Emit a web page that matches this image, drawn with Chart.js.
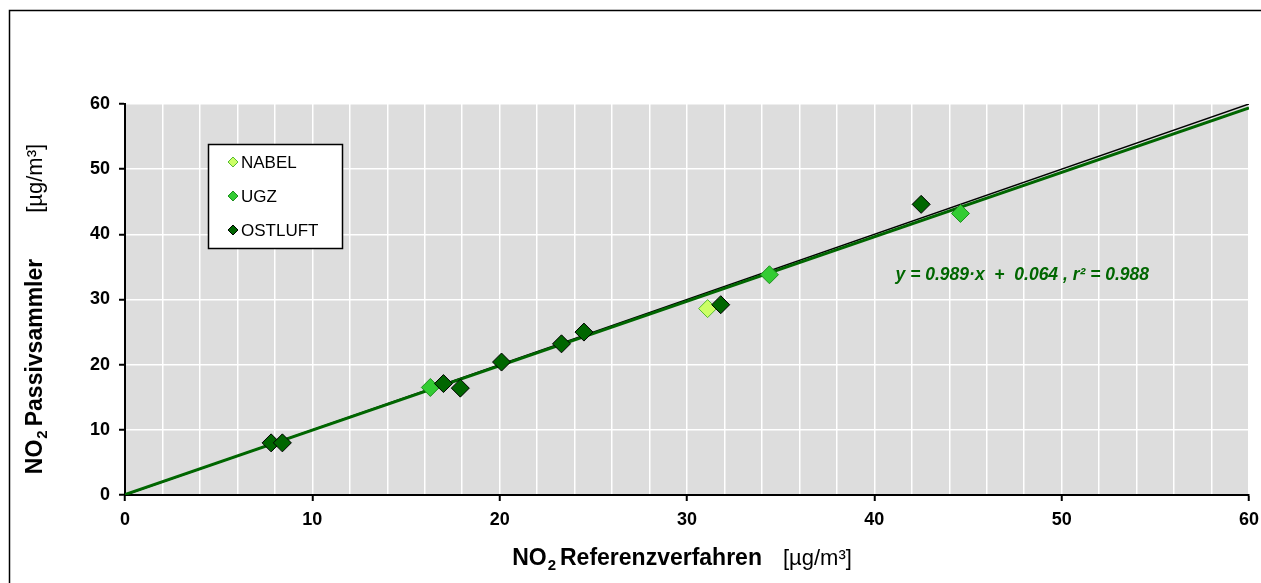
<!DOCTYPE html>
<html>
<head>
<meta charset="utf-8">
<script src="https://cdn.jsdelivr.net/npm/chart.js@4"></script>
<style>
  body { margin: 0; background: #fff; }
  canvas { display: block; }
</style>
</head>
<body>
<canvas id="no2-chart" width="1261" height="583"></canvas>
<script>
// Passivsammler vs. Referenzverfahren, µg/m³
const axisMin = 0;
const axisMax = 60;
const xTickLabels = [0, 10, 20, 30, 40, 50, 60];
const yTickLabels = [0, 10, 20, 30, 40, 50, 60];

const nabelX = [31.1];
const nabelY = [28.6];
const ugzX = [16.3, 34.4, 44.6];
const ugzY = [16.5, 33.8, 43.2];
const ostluftX = [7.8, 8.4, 17.0, 17.9, 20.1, 23.3, 24.5, 31.8, 42.5];
const ostluftY = [8.0, 8.0, 17.1, 16.4, 20.4, 23.2, 25.0, 29.2, 44.6];

const slope = 0.989;
const intercept = 0.064;
const rSquared = 0.988;

const FONT = '"Liberation Sans", Arial, sans-serif';
const GREEN = '#006600';

const series = [
    { label: 'NABEL', xs: nabelX, ys: nabelY, fill: '#ccff66', edge: '#55bb33', order: 3 },
    { label: 'UGZ', xs: ugzX, ys: ugzY, fill: '#33cc33', edge: '#1f8f1f', order: 2 },
    { label: 'OSTLUFT', xs: ostluftX, ys: ostluftY, fill: '#006600', edge: '#000000', order: 1 }
];

function toPoints(xs, ys) {
    return xs.map((x, i) => ({ x: x, y: ys[i] }));
}

const datasets = [
    { label: '1:1', type: 'line', data: [{ x: axisMin, y: axisMin }, { x: axisMax, y: axisMax }],
      borderColor: '#000', borderWidth: 1.5, pointRadius: 0, fill: false, order: 11 },
    { label: 'Regression', type: 'line', data: [{ x: axisMin, y: slope * axisMin + intercept }, { x: axisMax, y: slope * axisMax + intercept }],
      borderColor: GREEN, borderWidth: 3, pointRadius: 0, fill: false, order: 10 }
];
series.forEach(s => datasets.push({
    label: s.label, data: toPoints(s.xs, s.ys), pointStyle: 'rectRot', pointRadius: 9, pointHoverRadius: 9,
    backgroundColor: s.fill, borderColor: s.edge, borderWidth: 1, order: s.order
}));

function drawRuns(ctx, runs, cx, cy, vertical) {
    let total = 0;
    runs.forEach(r => {
        ctx.font = r.font;
        r.w = ctx.measureText(r.text).width;
        total += r.w + (r.gap || 0);
    });
    ctx.save();
    ctx.translate(cx, cy);
    if (vertical) ctx.rotate(-Math.PI / 2);
    ctx.fillStyle = '#000';
    ctx.textBaseline = 'alphabetic';
    ctx.textAlign = 'left';
    let x = -total / 2;
    runs.forEach(r => {
        x += r.gap || 0;
        ctx.font = r.font;
        ctx.fillText(r.text, x, r.dy || 0);
        x += r.w;
    });
    ctx.restore();
}

function diamond(ctx, x, y, r) {
    ctx.beginPath();
    ctx.moveTo(x, y - r);
    ctx.lineTo(x + r, y);
    ctx.lineTo(x, y + r);
    ctx.lineTo(x - r, y);
    ctx.closePath();
}

const decorations = {
    id: 'decorations',
    beforeDraw(chart) {
        const ctx = chart.ctx;
        const a = chart.chartArea;
        ctx.save();
        ctx.fillStyle = '#fff';
        ctx.fillRect(0, 0, chart.width, chart.height);
        ctx.strokeStyle = '#000';
        ctx.lineWidth = 1.5;
        ctx.strokeRect(9.5, 10.5, chart.width + 20, chart.height + 20);
        ctx.fillStyle = '#dddddd';
        ctx.fillRect(a.left, a.top, a.right - a.left, a.bottom - a.top);
        ctx.restore();
    },
    afterDraw(chart) {
        const ctx = chart.ctx;
        const xs = chart.scales.x, ys = chart.scales.y;

        // axis titles
        const bold = 'bold 23px ' + FONT;
        const sub = 'bold 15px ' + FONT;
        const plain = '22px ' + FONT;
        drawRuns(ctx, [
            { text: 'NO', font: bold },
            { text: '2', font: sub, dy: 5, gap: 1 },
            { text: 'Referenzverfahren', font: bold, gap: 4 },
            { text: '[µg/m³]', font: plain, gap: 21 }
        ], 682, 565, false);
        drawRuns(ctx, [
            { text: 'NO', font: bold },
            { text: '2', font: sub, dy: 5, gap: 1 },
            { text: 'Passivsammler', font: bold, gap: 4 },
            { text: '[µg/m³]', font: plain, gap: 46 }
        ], 42, 309, true);

        // regression equation
        ctx.save();
        ctx.font = 'italic bold 17.5px ' + FONT;
        ctx.fillStyle = GREEN;
        ctx.textAlign = 'center';
        ctx.textBaseline = 'middle';
        ctx.fillText('y = ' + slope.toFixed(3) + '·x  +  ' + intercept.toFixed(3) + ' , r² = ' + rSquared.toFixed(3),
            xs.getPixelForValue(47.9), ys.getPixelForValue(33.8));
        ctx.restore();

        // legend box
        ctx.save();
        ctx.fillStyle = '#fff';
        ctx.fillRect(208.5, 144.5, 134, 104);
        ctx.strokeStyle = '#000';
        ctx.lineWidth = 1.5;
        ctx.strokeRect(208.5, 144.5, 134, 104);
        ctx.font = '17px ' + FONT;
        ctx.textBaseline = 'middle';
        ctx.textAlign = 'left';
        series.forEach((s, i) => {
            const y = 162 + i * 34;
            diamond(ctx, 233, y, 5);
            ctx.fillStyle = s.fill;
            ctx.fill();
            ctx.strokeStyle = s.edge;
            ctx.lineWidth = 1;
            ctx.stroke();
            ctx.fillStyle = '#000';
            ctx.fillText(s.label, 241, y + 1);
        });
        ctx.restore();
    }
};

const tickFont = { family: FONT, size: 18, weight: 'bold' };

new Chart(document.getElementById('no2-chart'), {
    type: 'scatter',
    data: { datasets: datasets },
    options: {
        responsive: false,
        animation: false,
        layout: { padding: { top: 104, right: 12, bottom: 0, left: 0 } },
        plugins: { legend: { display: false }, tooltip: { enabled: false } },
        scales: {
            x: {
                type: 'linear', min: axisMin, max: axisMax,
                afterBuildTicks: s => { s.ticks = []; for (let v = axisMin; v <= axisMax; v += 2) s.ticks.push({ value: v }); },
                ticks: {
                    autoSkip: false, maxRotation: 0, color: '#000', font: tickFont, padding: 8,
                    callback: v => xTickLabels.includes(v) ? String(v) : ''
                },
                grid: {
                    color: c => c.tick && c.tick.value === axisMin ? 'rgba(0,0,0,0)' : '#fff',
                    lineWidth: 1.5, tickLength: 6, tickWidth: 2,
                    tickColor: c => c.tick && xTickLabels.includes(c.tick.value) ? '#000' : 'rgba(0,0,0,0)'
                },
                border: { color: '#000', width: 2 },
                afterFit: s => { s.height = 88; s.paddingLeft = 0; s.paddingRight = 0; }
            },
            y: {
                type: 'linear', min: axisMin, max: axisMax,
                afterBuildTicks: s => { s.ticks = yTickLabels.map(v => ({ value: v })); },
                ticks: { color: '#000', font: tickFont, padding: 9 },
                grid: {
                    color: c => c.tick && c.tick.value === axisMin ? 'rgba(0,0,0,0)' : '#fff',
                    lineWidth: 1.5, tickLength: 6, tickWidth: 2, tickColor: '#000'
                },
                border: { color: '#000', width: 2 },
                afterFit: s => { s.width = 125; s.paddingTop = 0; s.paddingBottom = 0; }
            }
        }
    },
    plugins: [decorations]
});
</script>
</body>
</html>
